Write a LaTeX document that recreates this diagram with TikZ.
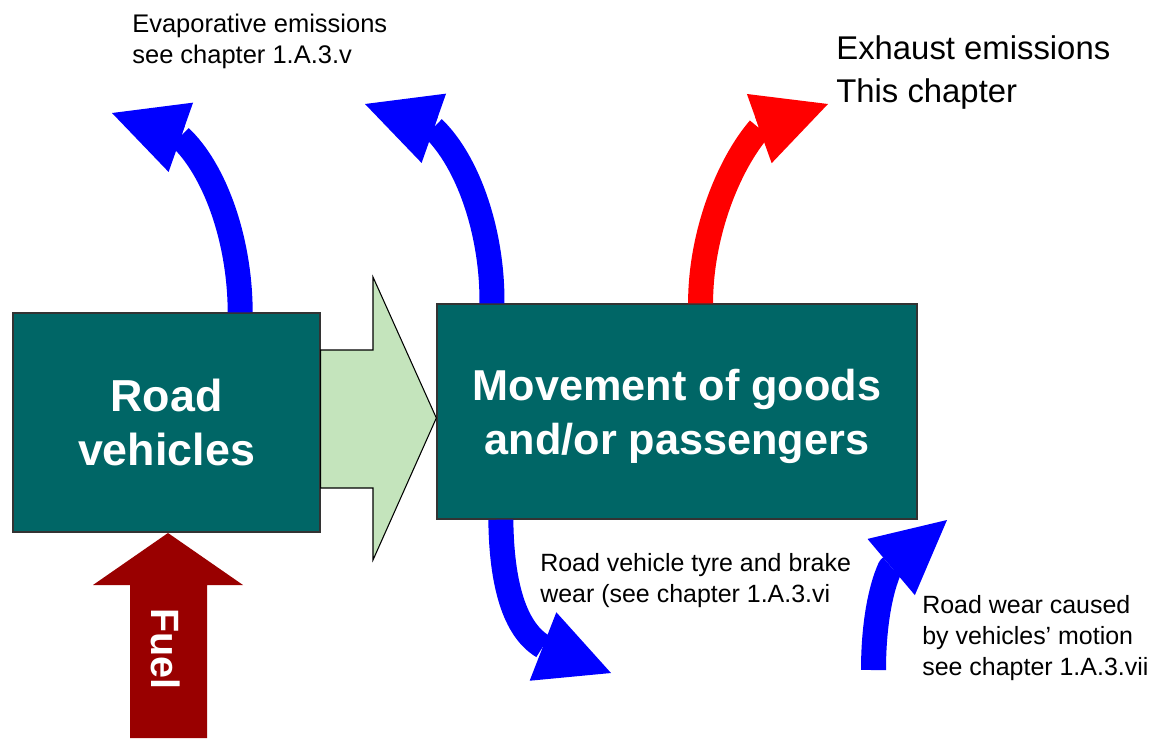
\documentclass[tikz,border=0pt]{standalone}
\usepackage{fontspec}
\setmainfont{Liberation Sans}
\usetikzlibrary{arrows.meta,calc}

\definecolor{boxteal}{RGB}{0,102,102}
\definecolor{flowgreen}{RGB}{196,228,188}
\definecolor{fuelred}{RGB}{153,0,0}

\tikzset{
  bigbox/.style={draw=black!80, line width=0.8pt, fill=boxteal, text=white,
    font=\bfseries\fontsize{25.5}{30.7}\selectfont, align=center, inner sep=0pt},
  flow/.style={line width=0.5cm, line join=round,
    -{Triangle[length=1.46cm, width=1.47cm, line width=0pt]}},
  note/.style={font=\fontsize{14.2}{17.6}\selectfont, align=left, inner sep=0pt, anchor=base west},
}

\begin{document}
\begin{tikzpicture}[x=0.02cm, y=-0.02cm]
      \useasboundingbox (0,0) rectangle (1160,738);

      % Boxes
      \node (road) [bigbox, minimum width=6.14cm, minimum height=4.38cm] at (166.5,422.5) {Road\\vehicles};
      \node (move) [bigbox, minimum width=9.6cm, minimum height=4.3cm, text depth=0pt,
        font=\bfseries\fontsize{24.6}{30.7}\selectfont] at (677,411.5) {Movement of goods\\and/or passengers};

      % Road vehicles -> movement
      \draw[fill=flowgreen, line width=0.6pt] ($(road.east)+(0,-72.5)$) -- (373,350) -- (373,277)
        -- ($(move.west)+(0,6.5)$) -- (373,560) -- (373,488) -- ($(road.east)+(0,65.5)$) -- cycle;

      % Fuel
      \fill[fuelred] (130,738) -- (130,585) -- (93,585) -- (168,533) -- (243,585) -- (207,585) -- (207,738) -- cycle;
      \node (fuel) [rotate=-90, text=white, inner sep=0pt, font=\bfseries\fontsize{22.5}{27}\selectfont] at (166,649) {Fuel};

      % Evaporative emissions
      \coordinate (evaptip1) at (112,113);
      \coordinate (evaptip2) at (365,104);
      \draw[flow, blue] ($(road.north west)!0.739!(road.north east)$) .. controls (240,240) and (215,170) .. (180,137) -- (evaptip1);
      \draw[flow, blue] ($(move.north west)!0.1156!(move.north east)$) .. controls (492.5,231) and (467.5,161) .. (433,128) -- (evaptip2);
      \node (evap) [note, font=\fontsize{14.5}{17.6}\selectfont] at (132,63) {Evaporative emissions\\see chapter 1.A.3.v};

      % Exhaust emissions
      \coordinate (exhtip) at (828,104);
      \draw[flow, red] ($(move.north west)!0.549!(move.north east)$) .. controls (700.5,235) and (728,165) .. (759.5,128.5) -- (exhtip);
      \node (exh) [note, font=\fontsize{18.7}{24.4}\selectfont] at (836,102) {Exhaust emissions\\This chapter};

      % Tyre and brake wear
      \coordinate (tyretip) at (611,673);
      \draw[flow, blue] ($(move.south west)!0.134!(move.south east)$) .. controls (501.5,585) and (515,630) .. (543,646.5) -- (tyretip);
      \node (tyre) [note] at (540,602) {Road vehicle tyre and brake\\wear (see chapter 1.A.3.vi};

      % Road wear
      \coordinate (wearbase) at (873.5,670);
      \coordinate (weartip) at (947,520);
      \draw[flow, blue] (wearbase) .. controls (873.5,627) and (880,590) .. (890,568) -- (weartip);
      \node (wear) [note] at (922,675) {Road wear caused\\by vehicles’ motion\\see chapter 1.A.3.vii};

\end{tikzpicture}
\end{document}
